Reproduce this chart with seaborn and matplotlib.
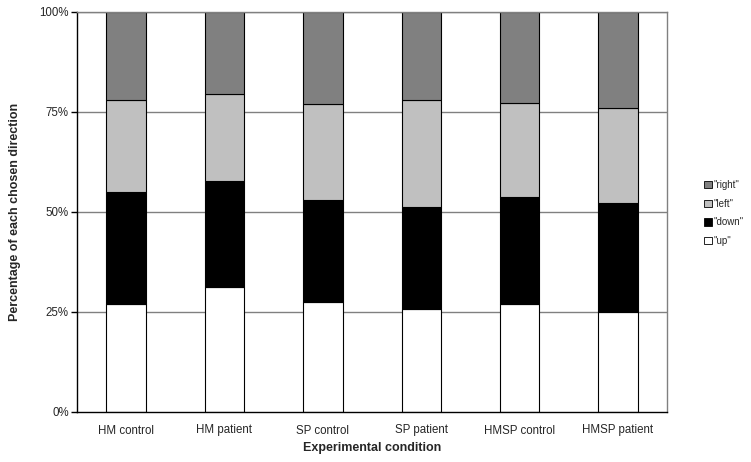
import matplotlib
matplotlib.use("Agg")
import matplotlib.pyplot as plt
import seaborn as sns
import numpy as np
from matplotlib.patches import Patch

conditions = ["HM control", "HM patient", "SP control", "SP patient", "HMSP control", "HMSP patient"]
up = [26.9, 31.25, 27.4, 25.75, 26.9, 25.1]
down = [28.2, 26.5, 25.5, 25.55, 26.8, 27.1]
left = [23.0, 21.85, 24.0, 26.8, 23.5, 23.7]
right = [21.9, 20.4, 23.1, 21.9, 22.8, 24.1]
yticks = [0, 25, 50, 75, 100]
ytick_labels = ["0%", "25%", "50%", "75%", "100%"]

sns.set_style("white")
plt.rcParams["font.family"] = ["Liberation Sans", "DejaVu Sans"]

fig = plt.figure(figsize=(7.51, 4.62), dpi=100)
ax = fig.add_axes([77 / 751, 50 / 462, 590 / 751, 400 / 462])

series = [("\"up\"", up, "#ffffff"), ("\"down\"", down, "#000000"),
          ("\"left\"", left, "#c0c0c0"), ("\"right\"", right, "#808080")]

for y in [25, 50, 75, 100]:
    ax.axhline(y, color="#808080", lw=1.0, zorder=0)

bottom = np.zeros(len(conditions))
for name, vals, col in series:
    sns.barplot(x=conditions, y=vals, bottom=bottom, color=col, width=0.4,
                edgecolor="#000000", linewidth=0.8, ax=ax, zorder=2, saturation=1)
    bottom = bottom + np.array(vals)

ax.set_ylim(0, 100)
ax.set_xlim(-0.5, 5.5)
ax.set_yticks(yticks)
ax.set_yticklabels(ytick_labels, fontsize=8.3)
ax.set_xticks(range(len(conditions)))
ax.set_xticklabels(conditions, fontsize=8.3)
ax.tick_params(axis="x", which="major", length=0, pad=9)
ax.set_xticks([-0.5, 1.0, 2.5, 4.0, 5.5], minor=True)
ax.tick_params(axis="x", which="minor", length=4, direction="out", color="black", width=1)
ax.tick_params(axis="y", length=4, direction="out", color="black", width=1, left=True, pad=2)

for s in ["left", "bottom"]:
    ax.spines[s].set_color("black")
    ax.spines[s].set_linewidth(1.0)
for s in ["top", "right"]:
    ax.spines[s].set_color("#808080")
    ax.spines[s].set_linewidth(1.0)

ax.set_xlabel("Experimental condition", fontsize=9, fontweight="bold", labelpad=4)
ax.set_ylabel("Percentage of each chosen direction", fontsize=9, fontweight="bold", labelpad=13)

handles = [Patch(facecolor=c, edgecolor="black", linewidth=0.6, label=n) for n, v, c in series[::-1]]
fig.legend(handles=handles, loc="center left", bbox_to_anchor=(700 / 751, 1 - 213 / 462),
           frameon=False, fontsize=7, handlelength=0.8, handleheight=0.8,
           handletextpad=0.2, labelspacing=0.9, borderaxespad=0)

fig.savefig("out.png", dpi=100)
